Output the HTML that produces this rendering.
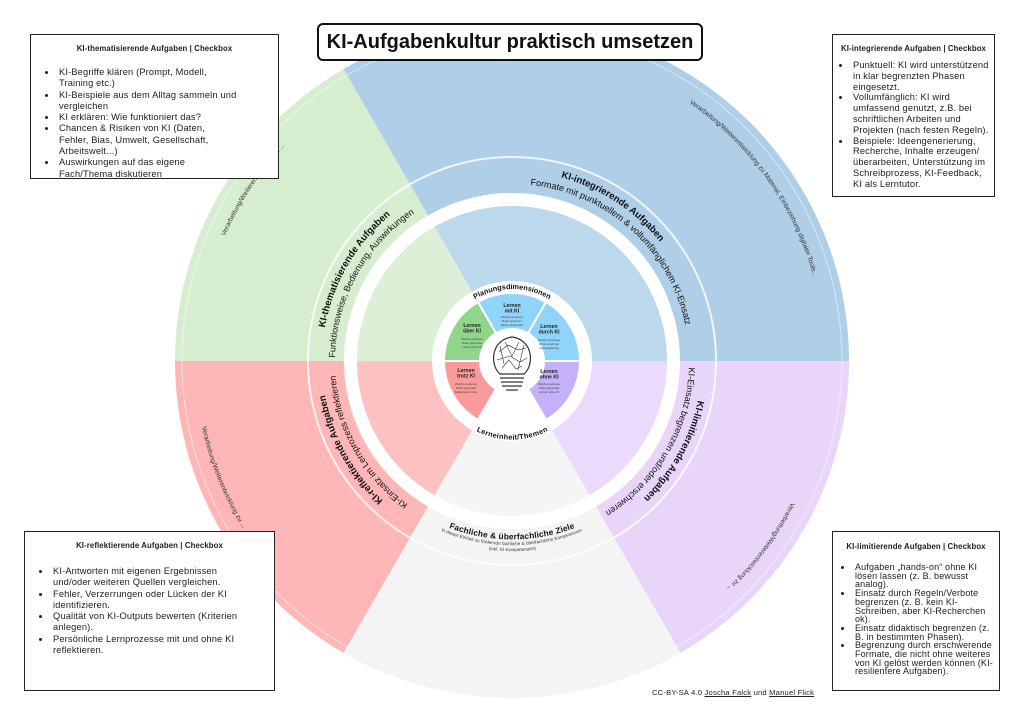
<!DOCTYPE html>
<html><head><meta charset="utf-8">
<style>
html,body{margin:0;padding:0;background:#fff;}
body{width:1024px;height:724px;position:relative;overflow:hidden;font-family:"Liberation Sans",sans-serif;}
svg{position:absolute;left:0;top:0;}
.box{position:absolute;border:1.3px solid #222;background:#fff;box-sizing:border-box;color:#222;}
.box h4{margin:0;font-size:7.8px;font-weight:bold;text-align:center;letter-spacing:0.1px;}
.box ul{margin:0;padding-left:22px;font-size:9.3px;line-height:11.3px;letter-spacing:0.15px;}
.box li{margin:0;padding-left:2px;}
.title{position:absolute;left:317px;top:23px;width:386px;height:38px;border:2px solid #111;border-radius:6px;box-sizing:border-box;background:#fff;text-align:center;font-weight:bold;font-size:20px;line-height:34px;color:#111;}
.foot{position:absolute;left:652px;top:688px;font-size:7.6px;color:#222;letter-spacing:0.2px;}
.foot u{text-decoration:underline;}
</style></head><body>
<svg width="1024" height="724" viewBox="0 0 1024 724" font-family="Liberation Sans, sans-serif">
<defs>
<path id="cw190" d="M322,361 A190,190 0 1 1 702,361 A190,190 0 1 1 322,361"/>
<path id="cw177" d="M335,361 A177,177 0 1 1 689,361 A177,177 0 1 1 335,361"/>
<path id="cw313" d="M199,361 A313,313 0 1 1 825,361 A313,313 0 1 1 199,361"/>
<path id="ccw313" d="M199,361 A313,313 0 1 0 825,361 A313,313 0 1 0 199,361"/>
<path id="ccw172" d="M340,361 A172,172 0 1 0 684,361 A172,172 0 1 0 340,361"/>
<path id="ccw181" d="M331,361 A181,181 0 1 0 693,361 A181,181 0 1 0 331,361"/>
<path id="ccw187" d="M325,361 A187,187 0 1 0 699,361 A187,187 0 1 0 325,361"/>
<path id="cw72" d="M440,361 A72,72 0 1 1 584,361 A72,72 0 1 1 440,361"/>
<path id="ccw73" d="M439,361 A73,73 0 1 0 585,361 A73,73 0 1 0 439,361"/>
</defs>
<path d="M512,361 L343.5,69.1 A337,337 0 0 1 849,361 Z" fill="#afcee7"/>
<path d="M512,361 L849,361 A337,337 0 0 1 680.5,652.9 Z" fill="#e9d5fa"/>
<path d="M512,361 L680.5,652.9 A337,337 0 0 1 343.5,652.9 Z" fill="#f4f4f4"/>
<path d="M512,361 L343.5,652.9 A337,337 0 0 1 175,361 Z" fill="#feb6b6"/>
<path d="M512,361 L175,361 A337,337 0 0 1 343.5,69.1 Z" fill="#d6eecf"/>
<circle cx="512" cy="361" r="330" fill="none" stroke="#fff" stroke-width="1" opacity="0.5"/>
<circle cx="512" cy="361" r="204" fill="none" stroke="#fff" stroke-width="2" opacity="0.8"/>
<circle cx="512" cy="361" r="168" fill="#fff"/>
<path d="M512,361 L434.5,226.8 A155,155 0 0 1 667,361 Z" fill="#bcd8ed"/>
<path d="M512,361 L667,361 A155,155 0 0 1 589.5,495.2 Z" fill="#ebdafb"/>
<path d="M512,361 L589.5,495.2 A155,155 0 0 1 434.5,495.2 Z" fill="#f5f5f5"/>
<path d="M512,361 L434.5,495.2 A155,155 0 0 1 357,361 Z" fill="#fdc1c1"/>
<path d="M512,361 L357,361 A155,155 0 0 1 434.5,226.8 Z" fill="#ddf0d7"/>
<circle cx="512" cy="361" r="80" fill="#fff"/>
<g stroke="#fff" stroke-width="2">
<path d="M512,361 L478,302.1 A68,68 0 0 1 546,302.1 Z" fill="#8fd4fb"/>
<path d="M512,361 L546,302.1 A68,68 0 0 1 580,361 Z" fill="#8fd4fb"/>
<path d="M512,361 L580,361 A68,68 0 0 1 546,419.9 Z" fill="#c4b0fb"/>
<path d="M512,361 L478,419.9 A68,68 0 0 1 444,361 Z" fill="#f99b9b"/>
<path d="M512,361 L444,361 A68,68 0 0 1 478,302.1 Z" fill="#8fd68b"/>
</g>
<circle cx="512" cy="361" r="33" fill="#fff"/>
<g fill="none" stroke="#333" stroke-width="1.2">
<path d="M500,374 C490,366 490,340 512,337 C534,340 534,366 524,374 Z" fill="#fff"/>
<path d="M500,378 H524 M501,382 H523 M502,386 H522 M506,390 H518"/>
<path d="M499,352 L508,345 L518,350 L526,348 M497,360 L510,356 L520,362 L527,358 M502,368 L509,360 L516,369 L522,366 M505,342 L512,356 L519,342 M500,346 L504,364 M524,345 L518,370" stroke-width="0.6"/>
</g>
<g font-size="5.2" font-weight="bold" fill="#222" text-anchor="middle">
<text x="512" y="307">Lernen</text><text x="512" y="312.5">mit KI</text>
<text x="472" y="327">Lernen</text><text x="472" y="332.5">über KI</text>
<text x="549" y="328">Lernen</text><text x="549" y="333.5">durch KI</text>
<text x="549" y="373">Lernen</text><text x="549" y="378.5">ohne KI</text>
<text x="466" y="372">Lernen</text><text x="466" y="377.5">trotz KI</text>
</g>
<g font-size="3" fill="#444" text-anchor="middle">
<text x="512" y="318">Welche konkrete</text><text x="512" y="322">Rolle spielt der</text><text x="512" y="326">aktive KI-Einsatz</text>
<text x="472" y="340">Welche konkrete</text><text x="472" y="344">Rolle spielt das</text><text x="472" y="348">Lernen über KI</text>
<text x="549" y="341">Welche konkrete</text><text x="549" y="345">Rolle spielt die</text><text x="549" y="349">Lernbegleitung</text>
<text x="549" y="385">Welche konkrete</text><text x="549" y="389">Rolle spielt das</text><text x="549" y="393">Lernen ohne KI</text>
<text x="466" y="385">Welche konkrete</text><text x="466" y="389">Rolle spielt das</text><text x="466" y="393">Reflektieren über</text>
</g>
<g font-weight="bold" font-size="7.3" fill="#111" text-anchor="middle">
<text><textPath href="#cw72" startOffset="113">Planungsdimensionen</textPath></text>
<text><textPath href="#ccw73" startOffset="114.7" dominant-baseline="hanging">Lerneinheit/Themen</textPath></text>
</g>
<g text-anchor="middle" fill="#111">
<text font-size="9.6" font-weight="bold"><textPath href="#cw190" startOffset="408">KI-integrierende Aufgaben</textPath></text>
<text font-size="9"><textPath href="#cw177" startOffset="408">Formate mit punktuellem &amp; vollumfänglichem KI-Einsatz</textPath></text>
<text font-size="9.6" font-weight="bold"><textPath href="#cw190" startOffset="100">KI-thematisierende Aufgaben</textPath></text>
<text font-size="9"><textPath href="#cw177" startOffset="89">Funktionsweise, Bedienung, Auswirkungen</textPath></text>
<text font-size="9.6" font-weight="bold"><textPath href="#cw190" startOffset="1098">KI-reflektierende Aufgaben</textPath></text>
<text font-size="9"><textPath href="#cw177" startOffset="1021">KI-Einsatz im Lernprozess reflektieren</textPath></text>
<text font-size="9.6" font-weight="bold"><textPath href="#cw190" startOffset="693">KI-limitierende Aufgaben</textPath></text>
<text font-size="9"><textPath href="#cw177" startOffset="649">KI-Einsatz begrenzen und/oder erschweren</textPath></text>
<text font-size="8.3" font-weight="bold"><textPath href="#ccw172" startOffset="270" dominant-baseline="hanging">Fachliche &amp; überfachliche Ziele</textPath></text>
<text font-size="4.6" fill="#333"><textPath href="#ccw181" startOffset="284" dominant-baseline="hanging">In dieser Einheit zu fördernde fachliche &amp; überfachliche Kompetenzen</textPath></text>
<text font-size="4.6" fill="#333"><textPath href="#ccw187" startOffset="294" dominant-baseline="hanging">(inkl. KI-Kompetenzen)</textPath></text>
<text font-size="6.6" fill="#333"><textPath href="#cw313" startOffset="789">Verarbeitung/Weiterentwicklung zu Material, Einbeziehung digitaler Tools...</textPath></text>
<text font-size="6.6" fill="#333"><textPath href="#cw313" startOffset="183">Verarbeitung/Weiterentwicklung zu ...</textPath></text>
<text font-size="6.6" fill="#333"><textPath href="#ccw313" startOffset="120" dominant-baseline="hanging">Verarbeitung/Weiterentwicklung zu ...</textPath></text>
<text font-size="6.6" fill="#333"><textPath href="#cw313" startOffset="1184">Verarbeitung/Weiterentwicklung zu ...</textPath></text>
</g>
</svg>

<div class="title">KI-Aufgabenkultur praktisch umsetzen</div>

<div class="box" style="left:30px;top:34px;width:249px;height:145px;padding-top:9px;">
<h4>KI-thematisierende Aufgaben | Checkbox</h4>
<ul style="margin-top:14px;padding-left:26px;width:180px;">
<li>KI-Begriffe klären (Prompt, Modell, Training etc.)</li>
<li>KI-Beispiele aus dem Alltag sammeln und vergleichen</li>
<li>KI erklären: Wie funktioniert das?</li>
<li>Chancen &amp; Risiken von KI (Daten, Fehler, Bias, Umwelt, Gesellschaft, Arbeitswelt...)</li>
<li>Auswirkungen auf das eigene Fach/Thema diskutieren</li>
</ul></div>

<div class="box" style="left:832px;top:34px;width:163px;height:163px;padding-top:9px;">
<h4>KI-integrierende Aufgaben | Checkbox</h4>
<ul style="margin-top:7px;padding-left:18px;width:140px;line-height:10.8px;">
<li>Punktuell: KI wird unterstützend in klar begrenzten Phasen eingesetzt.</li>
<li>Vollumfänglich: KI wird umfassend genutzt, z.B. bei schriftlichen Arbeiten und Projekten (nach festen Regeln).</li>
<li>Beispiele: Ideengenerierung, Recherche, Inhalte erzeugen/ überarbeiten, Unterstützung im Schreibprozess, KI-Feedback, KI als Lerntutor.</li>
</ul></div>

<div class="box" style="left:24px;top:531px;width:251px;height:160px;padding-top:9px;">
<h4>KI-reflektierende Aufgaben | Checkbox</h4>
<ul style="margin-top:16px;padding-left:26px;width:190px;">
<li>KI-Antworten mit eigenen Ergebnissen und/oder weiteren Quellen vergleichen.</li>
<li>Fehler, Verzerrungen oder Lücken der KI identifizieren.</li>
<li>Qualität von KI-Outputs bewerten (Kriterien anlegen).</li>
<li>Persönliche Lernprozesse mit und ohne KI reflektieren.</li>
</ul></div>

<div class="box" style="left:832px;top:531px;width:168px;height:160px;padding-top:10px;">
<h4>KI-limitierende Aufgaben | Checkbox</h4>
<ul style="margin-top:12px;padding-left:20px;width:140px;line-height:8.7px;font-size:9px;">
<li>Aufgaben „hands-on“ ohne KI lösen lassen (z. B. bewusst analog).</li>
<li>Einsatz durch Regeln/Verbote begrenzen (z. B. kein KI-Schreiben, aber KI-Recherchen ok).</li>
<li>Einsatz didaktisch begrenzen (z. B. in bestimmten Phasen).</li>
<li>Begrenzung durch erschwerende Formate, die nicht ohne weiteres von KI gelöst werden können (KI-resilientere Aufgaben).</li>
</ul></div>

<div class="foot">CC-BY-SA 4.0 <u>Joscha Falck</u> und <u>Manuel Flick</u></div>
</body></html>
